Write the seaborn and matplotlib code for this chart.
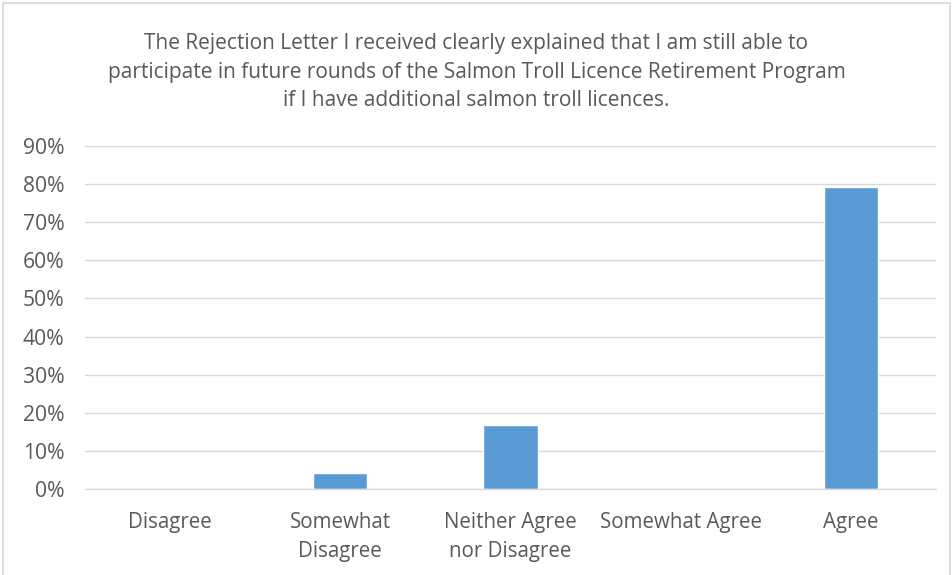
import matplotlib
matplotlib.use("Agg")
import matplotlib.pyplot as plt
import seaborn as sns
import pandas as pd
from matplotlib.lines import Line2D
from matplotlib.ticker import PercentFormatter

categories = ["Disagree", "Somewhat\nDisagree", "Neither Agree\nnor Disagree",
              "Somewhat Agree", "Agree"]
shares = [0.0, 4.17, 16.67, 0.0, 79.17]
y_ticks = [0, 10, 20, 30, 40, 50, 60, 70, 80, 90]
title = ("The Rejection Letter I received clearly explained that I am still able to\n"
         "participate in future rounds of the Salmon Troll Licence Retirement Program\n"
         "if I have additional salmon troll licences.")

df = pd.DataFrame({"category": categories, "share": shares})

sns.set_theme(style="white")
plt.rcParams["font.family"] = ["Open Sans", "DejaVu Sans"]

text_color = "#595959"
grid_color = "#d9d9d9"
bar_color = "#5b9bd5"

fig = plt.figure(figsize=(9.53, 5.75), dpi=100)
ax = fig.add_axes([0.0892, 0.1496, 0.8928, 0.5964])

sns.barplot(data=df, x="category", y="share", color=bar_color, width=0.32,
            saturation=1, ax=ax)

ax.set_ylim(0, 90)
ax.set_yticks(y_ticks)
ax.yaxis.set_major_formatter(PercentFormatter(decimals=0))
ax.yaxis.grid(True, color=grid_color, linewidth=1)
ax.set_axisbelow(True)
ax.set_xlabel("")
ax.set_ylabel("")
for side in ["top", "right", "left"]:
    ax.spines[side].set_visible(False)
ax.spines["bottom"].set_color(grid_color)
ax.spines["bottom"].set_linewidth(1)
ax.tick_params(axis="both", length=0, colors=text_color)
ax.tick_params(axis="x", pad=16.5, labelsize=14.8)
ax.tick_params(axis="y", pad=15, labelsize=15.2)
for lbl in ax.get_xticklabels():
    lbl.set_linespacing(1.5)
for lbl in ax.get_yticklabels():
    lbl.set_horizontalalignment("right")

fig.text(0.5, 0.874, title, ha="center", va="center", color=text_color,
         fontsize=15, linespacing=1.47)

# thin outer frame
for xs, ys in [([0.003, 0.003], [0, 0.995]), ([0.003, 0.997], [0.995, 0.995]),
               ([0.997, 0.997], [0, 0.995])]:
    fig.add_artist(Line2D(xs, ys, transform=fig.transFigure, color=grid_color,
                          linewidth=1.2))

fig.savefig("out.png", dpi=100)
